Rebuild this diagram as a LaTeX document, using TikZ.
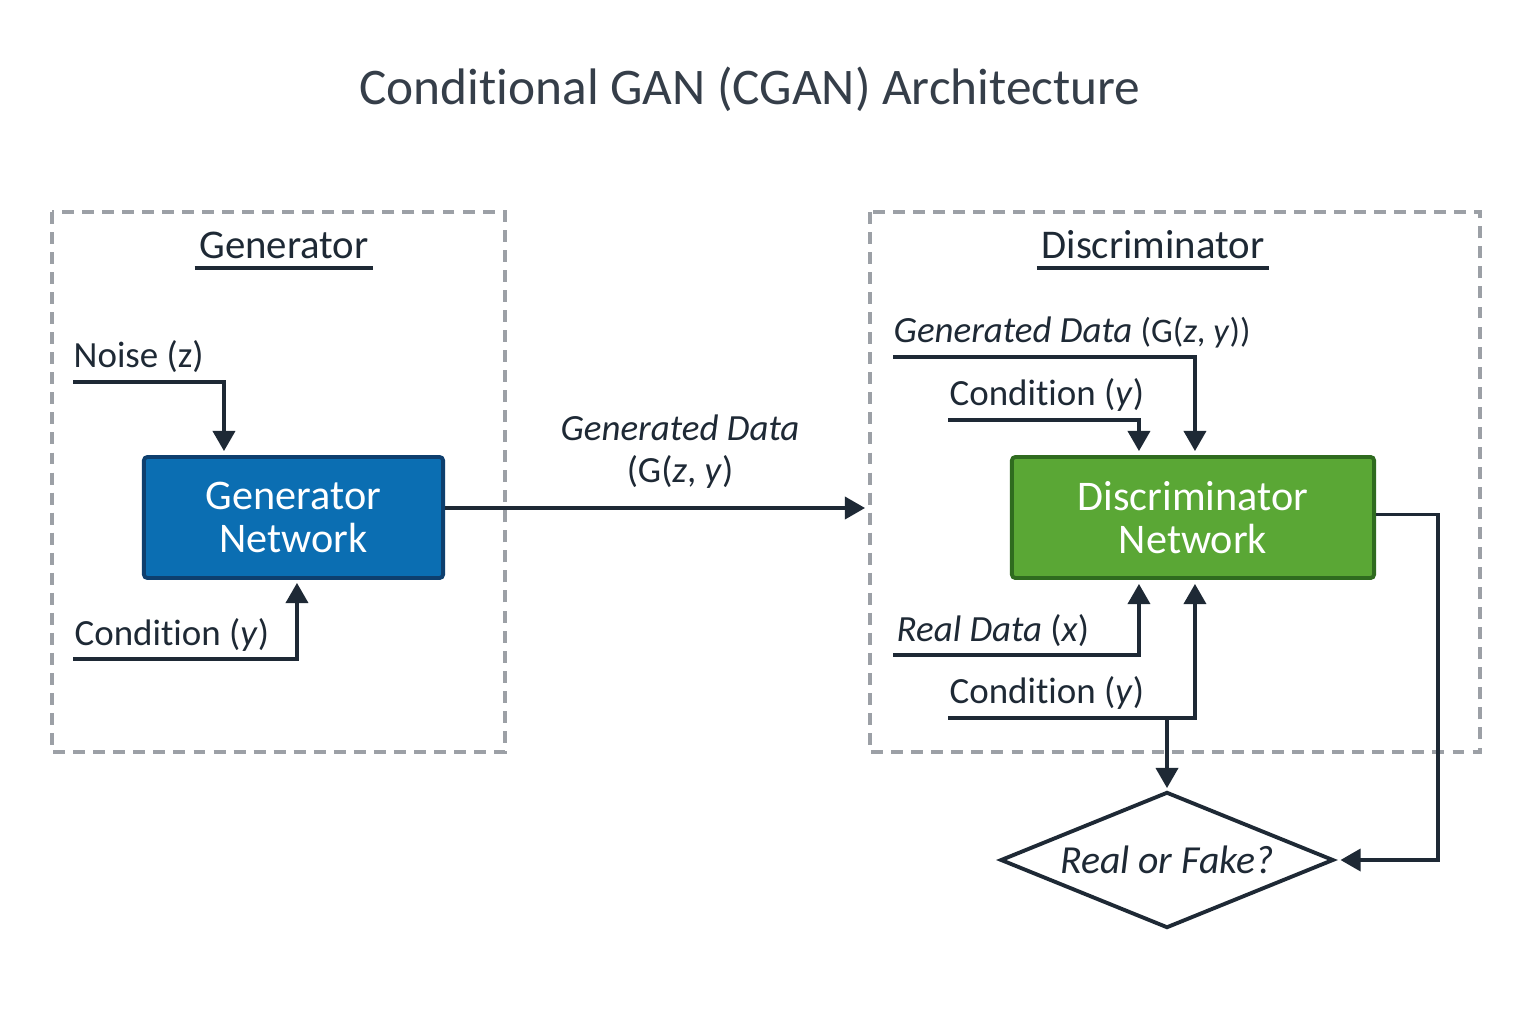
\documentclass[tikz,border=0pt]{standalone}
\usepackage{fontspec}
\setmainfont{Carlito}[Ligatures=NoCommon]
\usetikzlibrary{arrows.meta,shapes.geometric,calc}
\definecolor{ink}{HTML}{1E2935}
\definecolor{titlec}{HTML}{353E49}
\definecolor{dashc}{HTML}{9CA0A6}
\definecolor{genfill}{HTML}{0B6EB2}
\definecolor{genborder}{HTML}{0E3F6E}
\definecolor{discfill}{HTML}{5AA735}
\definecolor{discborder}{HTML}{2F6B1F}
\begin{document}
\begin{tikzpicture}[x=0.01cm,y=-0.01cm,
  conn/.style={draw=ink,line width=0.9pt},
  arr/.style={conn,-{Triangle[length=5.7pt,width=6.3pt]}},
  lbl/.style={anchor=base west,inner sep=0pt,text=ink,font=\fontsize{10.5}{12}\selectfont},
  hdr/.style={anchor=base,inner sep=0pt,text=ink,font=\fontsize{11.6}{13}\selectfont},
  uline/.style={draw=ink,line width=1pt},
  grp/.style={draw=dashc,line width=0.95pt,dash pattern=on 3.4pt off 2.3pt},
  net/.style={rectangle,rounded corners=1pt,line width=1.1pt,minimum width=2.99cm,minimum height=1.21cm,text=white,align=center,font=\fontsize{12}{12.3}\selectfont},
]
\useasboundingbox (0,0) rectangle (1536,1024);
\fill[white] (0,0) rectangle (1536,1024);

\node[anchor=base,inner sep=0pt,text=titlec,font=\fontsize{14.6}{18}\selectfont] (title) at (750,104) {Conditional GAN (CGAN) Architecture};

% group frames
\draw[grp] (52,212) rectangle (505,752);
\draw[grp] (870,212) rectangle (1480,752);

% headers
\node[hdr] (hg) at (284,258) {Generator};
\draw[uline] ($(hg.base west)+(-4,10)$) -- ($(hg.base east)+(4,10)$);
\node[hdr] (hd) at (1153,258) {Discriminator};
\draw[uline] ($(hd.base west)+(-4,10)$) -- ($(hd.base east)+(4,10)$);

% networks
\node[net,fill=genfill,draw=genborder] (gen) at (293.5,517.5) {Generator\\Network};
\node[net,fill=discfill,draw=discborder,minimum width=3.62cm] (disc) at (1193,517.5) {Discriminator\\Network};

% decision
\node[diamond,draw=ink,line width=1.1pt,aspect=2.45,minimum width=3.33cm,minimum height=1.36cm,inner sep=0pt,text=ink,font=\fontsize{11.3}{14}\selectfont\itshape] (rf) at (1167,860) {Real or Fake?};

% generator inputs
\node[lbl] (nz) at (73,367) {Noise (z)};
\draw[arr] ($(nz.base west)+(0,15)$) -| ($(gen.north west)+(82,-4)$);
\node[lbl] (gc) at (74,645) {Condition (\textit{y})};
\draw[arr] ($(gc.base west)+(-1,14)$) -| ($(gen.south west)+(155,3)$);

% generated data
\coordinate (gdend) at (865,508);
\draw[arr] (gen.east |- gdend) -- (gdend);
\node[inner sep=0pt,align=center,text=ink,font=\fontsize{10.5}{12}\selectfont] (gdl) at (680,452) {\textit{Generated Data}\\(G(\textit{z}, \textit{y})};

% discriminator inputs
\node[lbl] (dg) at (893,342) {\textit{Generated Data} {\fontsize{9.8}{12}\selectfont(G(\textit{z}, \textit{y}))}};
\draw[arr] ($(dg.base west)+(0,15)$) -| ($(disc.north west)+(185,-4)$);
\node[lbl] (dc1) at (949,405) {Condition (\textit{y})};
\draw[arr] ($(dc1.base west)+(-1,15)$) -| ($(disc.north west)+(129,-4)$);
\node[lbl] (dr) at (896,641) {\textit{Real Data} (\textit{x})};
\draw[arr] ($(dr.base west)+(-3,14)$) -| ($(disc.south west)+(129,4)$);
\node[lbl] (dc2) at (949,703) {Condition (\textit{y})};
\draw[arr] ($(dc2.base west)+(-1,15)$) -| ($(disc.south west)+(185,4)$);
\coordinate (br) at ($(dc2.base west)+(0,16)$);
\draw[arr] (br -| rf.north) -- ($(rf.north)+(0,-2)$);

% output to decision
\draw[arr] ($(disc.east)+(0,-3)$) -- ++(62,0) |- ($(rf.east)+(5,0)$);
\end{tikzpicture}
\end{document}
